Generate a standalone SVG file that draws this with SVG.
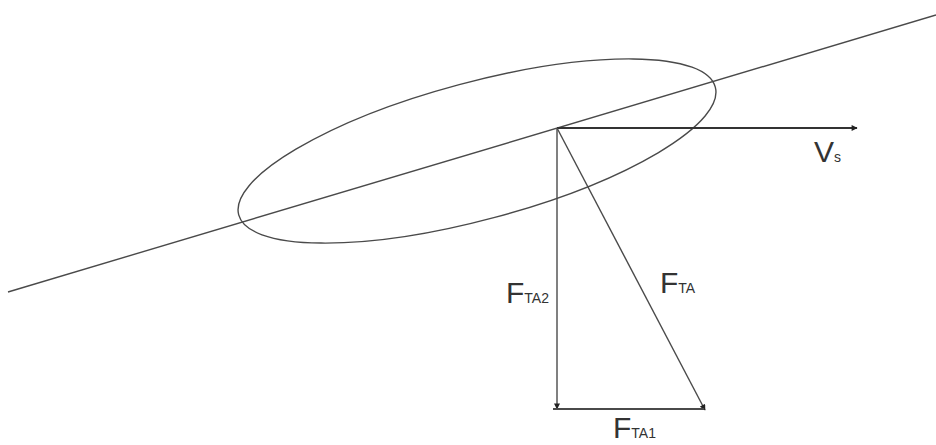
<svg xmlns="http://www.w3.org/2000/svg" width="936" height="445" viewBox="0 0 936 445">
<style>
.ln{stroke:#4a4a4a;stroke-width:1.4;fill:none}
.big{font-family:"Liberation Sans",Arial,sans-serif;font-size:30px;fill:#333}
.sub{font-size:14px}
</style>
<defs>
<marker id="ah" viewBox="0 0 10 10" refX="9" refY="5" markerWidth="7" markerHeight="6" markerUnits="userSpaceOnUse" orient="auto">
<path d="M0,0 L10,5 L0,10 z" fill="#222"/>
</marker>
</defs>
<rect width="936" height="445" fill="#fff"/>
<g id="axis">
<line class="ln" x1="8" y1="292" x2="936" y2="15"/>
</g>
<g id="ellipse">
<ellipse class="ln" cx="477" cy="151" rx="246.7" ry="68.7" transform="rotate(-15 477 151)"/>
</g>
<g id="connectors">
<line class="ln" x1="557" y1="128" x2="857" y2="128" style="stroke-width:2;stroke:#333" marker-end="url(#ah)"/>
<line class="ln" x1="557" y1="128" x2="557" y2="409" marker-end="url(#ah)"/>
<line class="ln" x1="557" y1="128" x2="705" y2="410" marker-end="url(#ah)"/>
<line class="ln" x1="553" y1="409" x2="704" y2="409" style="stroke-width:1.8"/>
</g>
<g id="labels">
<text class="big" x="814" y="162">V<tspan class="sub">s</tspan></text>
<text class="big" x="660" y="293">F<tspan class="sub">TA</tspan></text>
<text class="big" x="549" y="303" text-anchor="end">F<tspan class="sub">TA2</tspan></text>
<text class="big" x="613" y="438">F<tspan class="sub">TA1</tspan></text>
</g>
</svg>
